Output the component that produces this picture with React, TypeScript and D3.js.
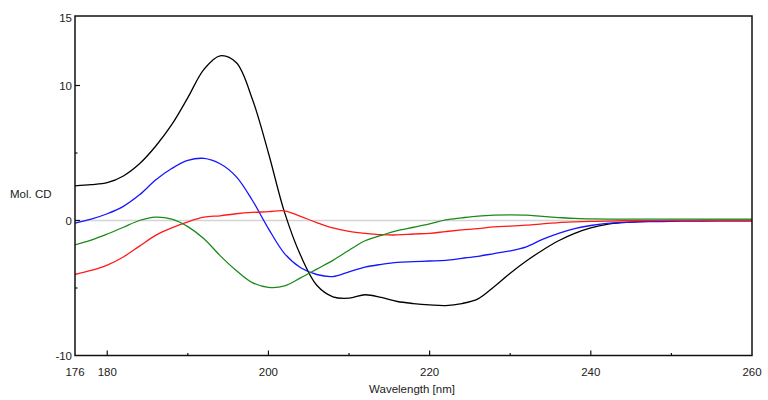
import React from "react";
import * as d3 from "d3";

const wavelengths = [
  176, 178, 180, 182, 184, 186, 188, 190, 192, 194, 196, 198, 200, 202, 204, 206, 208, 210, 212, 214, 216, 218,
  220, 222, 224, 226, 228, 230, 232, 234, 236, 238, 240, 242, 244, 246, 248, 250, 252, 254, 256, 258, 260,
];

const blackSeries = [
  2.57, 2.65, 2.8, 3.3, 4.2, 5.5, 7.1, 9.1, 11.2, 12.2, 11.7, 9.0, 5.0, 0.6, -2.6, -4.8, -5.65, -5.75, -5.5, -5.7,
  -6.0, -6.15, -6.25, -6.3, -6.15, -5.8, -4.9, -3.9, -3.0, -2.2, -1.5, -0.95, -0.55, -0.28, -0.15, -0.08, -0.04,
  -0.02, -0.01, 0, 0, 0, 0,
];

const blueSeries = [
  -0.2, 0.1, 0.5, 1.05, 1.9, 3.0, 3.85, 4.45, 4.6, 4.2, 3.25, 1.5, -0.6, -2.45, -3.5, -4.0, -4.15, -3.8, -3.45,
  -3.25, -3.1, -3.05, -3.0, -2.95, -2.8, -2.65, -2.45, -2.25, -1.95, -1.4, -0.95, -0.6, -0.37, -0.22, -0.14, -0.1,
  -0.08, -0.06, -0.05, -0.04, -0.03, -0.02, -0.02,
];

const redSeries = [
  -4.0, -3.7, -3.3, -2.7, -1.9, -1.1, -0.55, -0.1, 0.25, 0.35, 0.5, 0.6, 0.65, 0.72, 0.3, -0.15, -0.55, -0.8, -0.95,
  -1.05, -1.07, -1.0, -0.95, -0.82, -0.7, -0.6, -0.47, -0.42, -0.35, -0.25, -0.15, -0.1, -0.07, -0.04, -0.02, -0.02,
  -0.01, 0, 0, 0, 0, 0, 0,
];

const greenSeries = [
  -1.8, -1.45, -1.0, -0.5, 0.0, 0.25, 0.1, -0.45, -1.35, -2.6, -3.7, -4.6, -4.95, -4.85, -4.25, -3.6, -2.95, -2.2,
  -1.5, -1.1, -0.75, -0.5, -0.25, 0.05, 0.2, 0.33, 0.4, 0.42, 0.4, 0.3, 0.22, 0.15, 0.12, 0.1, 0.1, 0.1, 0.1, 0.1,
  0.1, 0.1, 0.1, 0.1, 0.1,
];

const seriesList = [
  { name: "black", color: "#000000", values: blackSeries },
  { name: "blue", color: "#1515ff", values: blueSeries },
  { name: "red", color: "#ff1a1a", values: redSeries },
  { name: "green", color: "#1a8a1a", values: greenSeries },
];

const xTickLabels = [176, 180, 200, 220, 240, 260];
const xMajorTicks = [180, 200, 220, 240];
const xMinorTicks = [190, 210, 230, 250];
const yTickLabels = [15, 10, 0, -10];
const yMajorTicks = [10, 0];
const yMinorTicks = [5, -5];

export default function App() {
  const left = 75;
  const right = 752;
  const top = 16;
  const bottom = 355.5;
  const x = d3.scaleLinear().domain([176, 260]).range([left, right]);
  const y = d3.scaleLinear().domain([-10, 15]).range([bottom, 18]);

  const line = d3
    .line<number>()
    .x((_, i) => x(wavelengths[i]))
    .y((d) => y(d))
    .curve(d3.curveCatmullRom.alpha(0.5));

  const font = "'Liberation Sans', Arial, sans-serif";

  return (
    <svg
      width={768}
      height={400}
      style={{ position: "absolute", left: 0, top: 0, background: "#fff" }}
      fontFamily={font}
      fontSize={11.5}
    >
      <rect x={0} y={0} width={768} height={400} fill="#fff" />
      <line x1={left} x2={right} y1={y(0)} y2={y(0)} stroke="#d4d4d4" strokeWidth={1.5} />
      <defs>
        <clipPath id="clip">
          <rect x={left} y={top} width={right - left} height={bottom - top} />
        </clipPath>
      </defs>
      <g clipPath="url(#clip)">
        {seriesList.map((s) => (
          <path key={s.name} d={line(s.values) || ""} fill="none" stroke={s.color} strokeWidth={1.3} />
        ))}
      </g>
      <rect x={left} y={top} width={right - left} height={bottom - top} fill="none" stroke="#111" strokeWidth={1.5} />
      {xMajorTicks.map((t) => (
        <line key={"xm" + t} x1={x(t)} x2={x(t)} y1={bottom} y2={bottom - 5} stroke="#111" strokeWidth={1.2} />
      ))}
      {xMinorTicks.map((t) => (
        <line key={"xn" + t} x1={x(t)} x2={x(t)} y1={bottom} y2={bottom - 2.5} stroke="#111" strokeWidth={1.2} />
      ))}
      {yMajorTicks.map((t) => (
        <line key={"ym" + t} x1={left} x2={left + 5} y1={y(t)} y2={y(t)} stroke="#111" strokeWidth={1.2} />
      ))}
      {yMinorTicks.map((t) => (
        <line key={"yn" + t} x1={left} x2={left + 2.5} y1={y(t)} y2={y(t)} stroke="#111" strokeWidth={1.2} />
      ))}
      {xTickLabels.map((t) => (
        <text key={"xl" + t} x={x(t)} y={bottom + 20} textAnchor="middle" fill="#222">
          {t}
        </text>
      ))}
      {yTickLabels.map((t) => (
        <text key={"yl" + t} x={left - 3} y={y(t) + 4} textAnchor="end" fill="#222">
          {t}
        </text>
      ))}
      <text x={412} y={393} textAnchor="middle" fill="#222">
        Wavelength [nm]
      </text>
      <text x={10} y={198} textAnchor="start" fill="#222">
        Mol. CD
      </text>
    </svg>
  );
}
